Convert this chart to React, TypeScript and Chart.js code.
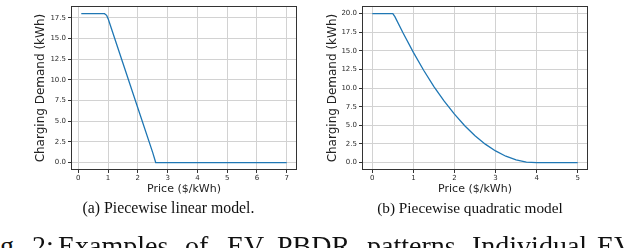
import React, { useEffect, useRef } from "react";
import { Chart, registerables } from "chart.js";
Chart.register(...registerables);

// ---- data ----
const linearPrice = [0.1, 0.5, 0.88, 0.95, 1.0, 1.5, 2.0, 2.5, 2.6, 3, 4, 5, 6, 7];
const linearDemand = [18, 18, 18, 17.8, 17.4, 12.0, 6.6, 1.2, 0, 0, 0, 0, 0, 0];
const quadPrice = [0, 0.25, 0.5, 0.55, 0.75, 1.0, 1.25, 1.5, 1.75, 2.0, 2.25, 2.5, 2.75, 3.0, 3.25, 3.5, 3.75, 4.0, 4.5, 5.0];
const quadDemand = [20, 20, 20, 19.6, 17.4, 14.8, 12.4, 10.2, 8.25, 6.5, 4.95, 3.6, 2.47, 1.56, 0.85, 0.36, 0.07, 0, 0, 0];
const linearXTicks = [0, 1, 2, 3, 4, 5, 6, 7];
const linearYTicks = [0, 2.5, 5, 7.5, 10, 12.5, 15, 17.5];
const quadXTicks = [0, 1, 2, 3, 4, 5];
const quadYTicks = [0, 2.5, 5, 7.5, 10, 12.5, 15, 17.5, 20];
const xTitle = "Price ($/kWh)";
const yTitle = "Charging Demand (kWh)";
const captionA = "(a) Piecewise linear model.";
const captionB = "(b) Piecewise quadratic model";
const bottomWords = ["g.", "2:", "Examples", "of", "EV", "PBDR", "patterns.", "Individual", "EV"];
const bottomWordX = [0, 32, 58, 185, 227, 277, 367, 472, 597];

const framePlugin = {
  id: "frame",
  afterDatasetsDraw(chart: any) {
    const { ctx, chartArea } = chart;
    ctx.save();
    ctx.strokeStyle = "#333";
    ctx.lineWidth = 1;
    const l = Math.round(chartArea.left) + 0.5;
    const t = Math.round(chartArea.top) + 0.5;
    const r = Math.round(chartArea.right) - 0.5;
    const b = Math.round(chartArea.bottom) - 0.5;
    ctx.strokeRect(l, t, r - l, b - t);
    ctx.restore();
  },
};

type PlotProps = {
  price: number[];
  demand: number[];
  xTicks: number[];
  yTicks: number[];
  xMin: number;
  xMax: number;
  yMin: number;
  yMax: number;
  width: number;
  height: number;
  axisWidth: number;
  padRight: number;
  yTitlePad: number;
};

function Plot(p: PlotProps) {
  const ref = useRef<HTMLCanvasElement | null>(null);
  useEffect(() => {
    if (!ref.current) return;
    const chart = new Chart(ref.current, {
      type: "line",
      data: {
        datasets: [
          {
            data: p.price.map((x, i) => ({ x, y: p.demand[i] })),
            borderColor: "#1f77b4",
            borderWidth: 1.3,
            pointRadius: 0,
            tension: 0,
            fill: false,
          },
        ],
      },
      options: {
        responsive: false,
        animation: false,
        events: [],
        layout: { padding: { left: 0, right: p.padRight, top: 2, bottom: 0 } },
        plugins: { legend: { display: false }, tooltip: { enabled: false } },
        scales: {
          x: {
            type: "linear",
            min: p.xMin,
            max: p.xMax,
            afterBuildTicks: (s: any) => {
              s.ticks = p.xTicks.map((v) => ({ value: v }));
            },
            afterFit: (s: any) => {
              s.height = 30;
            },
            border: { display: false },
            grid: { color: "#d2d2d2", lineWidth: 1, drawTicks: true, tickLength: 3, tickColor: "#333", tickWidth: 1 },
            ticks: {
              color: "#2a2a2a",
              padding: 1,
              maxRotation: 0,
              autoSkip: false,
              font: { family: "DejaVu Sans", size: 7 },
              callback: (v: any) => String(v),
            },
            title: {
              display: true,
              text: xTitle,
              color: "#222",
              font: { family: "DejaVu Sans", size: 11 },
              padding: { top: 0, bottom: 4 },
            },
          },
          y: {
            type: "linear",
            min: p.yMin,
            max: p.yMax,
            afterBuildTicks: (s: any) => {
              s.ticks = p.yTicks.map((v) => ({ value: v }));
            },
            afterFit: (s: any) => {
              s.width = p.axisWidth;
            },
            border: { display: false },
            grid: { color: "#d2d2d2", lineWidth: 1, drawTicks: true, tickLength: 3, tickColor: "#333", tickWidth: 1 },
            ticks: {
              color: "#2a2a2a",
              padding: 2,
              autoSkip: false,
              font: { family: "DejaVu Sans", size: 7 },
              callback: (v: any) => Number(v).toFixed(1),
            },
            title: {
              display: true,
              text: yTitle,
              color: "#222",
              font: { family: "DejaVu Sans", size: 12 },
              padding: { top: p.yTitlePad, bottom: 0 },
            },
          },
        },
      },
      plugins: [framePlugin],
    } as any);
    return () => chart.destroy();
  }, []);
  return <canvas ref={ref} width={p.width} height={p.height} style={{ width: p.width, height: p.height, display: "block" }} />;
}

export default function App() {
  const serif = "'Liberation Serif', 'Times New Roman', serif";
  return (
    <div style={{ position: "fixed", left: 0, top: 0, width: 624, height: 248, overflow: "hidden", background: "#fff" }}>
      <div style={{ position: "absolute", left: 0, top: 0 }}>
        <Plot
          price={linearPrice}
          demand={linearDemand}
          xTicks={linearXTicks}
          yTicks={linearYTicks}
          xMin={-0.245}
          xMax={7.345}
          yMin={-0.9}
          yMax={18.9}
          width={310}
          height={200}
          axisWidth={71}
          padRight={13}
          yTitlePad={34}
        />
      </div>
      <div style={{ position: "absolute", left: 310, top: 0 }}>
        <Plot
          price={quadPrice}
          demand={quadDemand}
          xTicks={quadXTicks}
          yTicks={quadYTicks}
          xMin={-0.25}
          xMax={5.25}
          yMin={-1}
          yMax={21}
          width={314}
          height={200}
          axisWidth={52}
          padRight={36}
          yTitlePad={15.5}
        />
      </div>
      <div style={{ position: "absolute", left: 168.5 - 150, width: 300, top: 199.5, textAlign: "center", fontFamily: serif, fontSize: 15.8, lineHeight: 1, color: "#111", whiteSpace: "nowrap" }}>
        {captionA}
      </div>
      <div style={{ position: "absolute", left: 470 - 150, width: 300, top: 199.5, textAlign: "center", fontFamily: serif, fontSize: 15.3, lineHeight: 1, color: "#111", whiteSpace: "nowrap" }}>
        {captionB}
      </div>
      {bottomWords.map((w, i) => (
        <span key={i} style={{ position: "absolute", left: bottomWordX[i], top: 232, fontFamily: serif, fontSize: 28, lineHeight: "28px", color: "#111", whiteSpace: "nowrap" }}>
          {w}
        </span>
      ))}
    </div>
  );
}
